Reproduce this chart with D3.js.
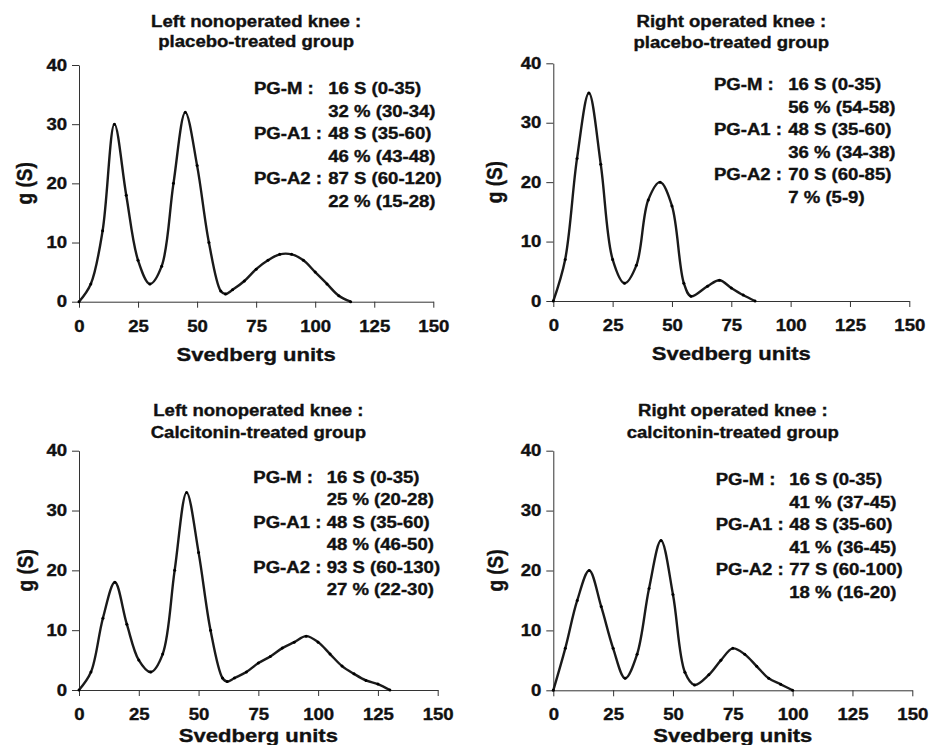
<!DOCTYPE html>
<html>
<head>
<meta charset="utf-8">
<script src="https://cdn.jsdelivr.net/npm/d3@7"></script>
<style>
  html, body { margin: 0; padding: 0; background: #fff; }
  svg { display: block; font-family: "Liberation Sans", Arial, sans-serif; font-weight: bold; }
  svg text { stroke: #111; stroke-width: 0.35px; }
</style>
</head>
<body>
<svg id="chart" width="929" height="745"></svg>
<script>
// Svedberg units (x) and g(S) values (y)
const sLeftPlacebo  = [0, 5, 10, 15, 20, 25, 30, 35, 40, 45, 50, 55, 60, 62, 65, 70, 75, 80, 85, 90, 95, 100, 105, 110, 115];
const gLeftPlacebo  = [0, 3, 12, 30, 18, 7, 3, 6, 20, 32, 23, 10, 1.8, 1.3, 2, 3.5, 5.5, 7, 8, 8, 7, 5, 3, 1, 0];

const sRightPlacebo = [0, 5, 10, 15, 20, 25, 30, 35, 40, 45, 50, 55, 58, 65, 70, 75, 80, 85];
const gRightPlacebo = [0, 7, 24, 35, 23, 7, 3, 6, 17, 20, 16, 3, 0.8, 2.5, 3.5, 2.2, 1, 0];

const sLeftCalci    = [0, 5, 10, 15, 20, 25, 30, 35, 40, 45, 50, 55, 60, 62, 65, 70, 75, 80, 85, 90, 95, 100, 105, 110, 115, 120, 125, 130];
const gLeftCalci    = [0, 3, 12, 18, 11, 5, 3, 6, 20, 33, 23, 10, 2, 1.4, 2, 3, 4.5, 5.6, 7, 8, 9, 8, 6, 4, 2.7, 1.6, 1, 0];

const sRightCalci   = [0, 5, 10, 15, 20, 25, 30, 35, 40, 45, 50, 55, 59, 65, 70, 75, 80, 85, 90, 95, 100];
const gRightCalci   = [0, 7, 15, 20, 14, 7, 2, 6, 17, 25, 16, 3, 0.9, 2.6, 5, 7, 6, 4, 2, 1, 0];

const xTicks = [0, 25, 50, 75, 100, 125, 150];
const yTicks = [0, 10, 20, 30, 40];

const titles = [
  ["Left nonoperated knee :", "placebo-treated group"],
  ["Right operated knee :", "placebo-treated group"],
  ["Left nonoperated knee :", "Calcitonin-treated group"],
  ["Right operated knee :", "calcitonin-treated group"]
];

const fractionLabels = ["PG-M :", "", "PG-A1 :", "", "PG-A2 :", ""];
const notesLeftPlacebo  = ["16 S (0-35)", "32 % (30-34)", "48 S (35-60)", "46 % (43-48)", "87 S (60-120)", "22 % (15-28)"];
const notesRightPlacebo = ["16 S (0-35)", "56 % (54-58)", "48 S (35-60)", "36 % (34-38)", "70 S (60-85)", "7 % (5-9)"];
const notesLeftCalci    = ["16 S (0-35)", "25 % (20-28)", "48 S (35-60)", "48 % (46-50)", "93 S (60-130)", "27 % (22-30)"];
const notesRightCalci   = ["16 S (0-35)", "41 % (37-45)", "48 S (35-60)", "41 % (36-45)", "77 S (60-100)", "18 % (16-20)"];

// the source picture is stretched horizontally, so text is widened a bit
const SX = 1.16;

const panels = [
  {s: sLeftPlacebo,  g: gLeftPlacebo,  title: titles[0], notes: notesLeftPlacebo,
   x0: 79, x1: 433.3, yTop: 65, yBot: 301.7, t1: 26.7, t2: 47.3, lab: 175, val: 249.3, n0: 29.3, xl: 360.7, yl: 32},
  {s: sRightPlacebo, g: gRightPlacebo, title: titles[1], notes: notesRightPlacebo,
   x0: 553.3, x1: 909.3, yTop: 63.3, yBot: 301, t1: 26.7, t2: 48.3, lab: 160.7, val: 235, n0: 26.7, xl: 360, yl: 502},
  {s: sLeftCalci,    g: gLeftCalci,    title: titles[2], notes: notesLeftCalci,
   x0: 79, x1: 437.7, yTop: 450.7, yBot: 690, t1: 416, t2: 438.3, lab: 174.3, val: 247.7, n0: 32, xl: 742, yl: 33},
  {s: sRightCalci,   g: gRightCalci,   title: titles[3], notes: notesRightCalci,
   x0: 553.3, x1: 912.3, yTop: 450.7, yBot: 690.3, t1: 416, t2: 438.3, lab: 162.4, val: 236, n0: 34.3, xl: 742, yl: 503}
];

const svg = d3.select("#chart");

function addText(parent, str, x, y, size, anchor) {
  return parent.append("text")
    .attr("transform", `translate(${x},${y}) scale(${SX},1)`)
    .attr("text-anchor", anchor || "start")
    .attr("font-size", size)
    .attr("fill", "#111")
    .text(str);
}

panels.forEach(p => {
  const x = d3.scaleLinear().domain([0, 150]).range([p.x0, p.x1]);
  const y = d3.scaleLinear().domain([0, 40]).range([p.yBot, p.yTop]);
  const g = svg.append("g");
  const cx = (p.x0 + p.x1) / 2;

  addText(g, p.title[0], cx, p.t1, 16, "middle");
  addText(g, p.title[1], cx, p.t2, 16, "middle");

  const xAxis = g.append("g")
    .attr("transform", `translate(0,${p.yBot})`)
    .call(d3.axisBottom(x).tickValues(xTicks).tickSize(6).tickSizeOuter(0));
  const yAxis = g.append("g")
    .attr("transform", `translate(${p.x0},0)`)
    .call(d3.axisLeft(y).tickValues(yTicks).tickSize(7).tickSizeOuter(0));

  [xAxis, yAxis].forEach(a => {
    a.attr("font-family", null).attr("font-size", null);
    a.selectAll("path, line").attr("stroke", "#333").attr("stroke-width", 1);
    a.selectAll("text").attr("fill", "#111").attr("font-size", 16);
  });
  xAxis.selectAll(".tick text")
    .attr("y", 30).attr("dy", null)
    .attr("transform", `scale(${SX},1)`);
  yAxis.selectAll(".tick text")
    .attr("x", -12 / SX)
    .attr("transform", `scale(${SX},1)`);

  addText(g, "Svedberg units", cx, p.xl, 19, "middle");
  g.append("text")
    .attr("transform", `translate(${p.yl},${(p.yTop + p.yBot) / 2}) rotate(-90) scale(1,${SX})`)
    .attr("text-anchor", "middle")
    .attr("font-size", 19)
    .attr("fill", "#111")
    .text("g (S)");

  const pts = p.s.map((v, i) => [v, p.g[i]]);
  const line = d3.line()
    .x(d => x(d[0]))
    .y(d => y(d[1]))
    .curve(d3.curveCatmullRom.alpha(0.5));

  g.append("path")
    .datum(pts)
    .attr("fill", "none")
    .attr("stroke", "#1a1a1a")
    .attr("stroke-width", 2.4)
    .attr("stroke-linejoin", "round")
    .attr("d", line);

  g.selectAll("circle.pt")
    .data(pts)
    .enter().append("circle")
    .attr("class", "pt")
    .attr("cx", d => x(d[0]))
    .attr("cy", d => y(d[1]))
    .attr("r", 1.5)
    .attr("fill", "#000");

  fractionLabels.forEach((lbl, i) => {
    const yy = p.yTop + p.n0 + i * 22.5;
    if (lbl) addText(g, lbl, p.x0 + p.lab, yy, 16);
    addText(g, p.notes[i], p.x0 + p.val, yy, 16);
  });
});
</script>
</body>
</html>
